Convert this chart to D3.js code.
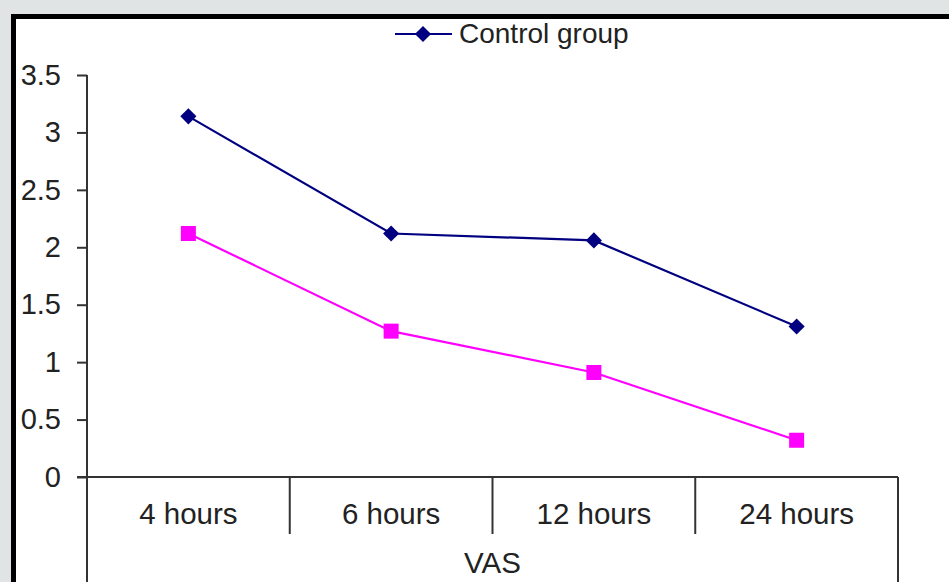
<!DOCTYPE html>
<html lang="en">
<head>
    <meta charset="UTF-8">
    <title>VAS</title>
    <script src="https://d3js.org/d3.v7.min.js"></script>
    <style>
        body {
            margin: 0;
            background: #e0e4e5;
        }
        svg {
            display: block;
        }
        svg text {
            font-family: "Liberation Sans", Arial, sans-serif;
            fill: #222;
        }
    </style>
</head>
<body>
    <svg width="949" height="582"></svg>
    <script>
        // Data
        const categories = ["4 hours", "6 hours", "12 hours", "24 hours"];
        const controlValues = [3.14, 2.12, 2.06, 1.31];
        const studyValues = [2.12, 1.27, 0.91, 0.32];
        const yTicks = [0, 0.5, 1, 1.5, 2, 2.5, 3, 3.5];

        const svg = d3.select("svg");

        // Outer frame
        svg.append("rect")
           .attr("x", 13.5)
           .attr("y", 16.5)
           .attr("width", 1000)
           .attr("height", 700)
           .attr("fill", "white")
           .attr("stroke", "black")
           .attr("stroke-width", 5);

        const plotLeft = 87, plotRight = 898, plotTop = 75, plotBottom = 477;

        const x = d3.scaleBand()
                    .domain(categories)
                    .range([plotLeft, plotRight])
                    .padding(0);

        const y = d3.scaleLinear()
                    .domain([0, 3.5])
                    .range([plotBottom, plotTop]);

        // Y axis
        const yAxis = svg.append("g")
           .attr("transform", `translate(${plotLeft},0)`)
           .call(d3.axisLeft(y).tickValues(yTicks).tickSize(10).tickPadding(16)
                 .tickFormat(d3.format("")));
        yAxis.select(".domain").attr("stroke", "#333").attr("stroke-width", 2)
             .attr("d", `M0,${plotTop}V582`);
        yAxis.selectAll(".tick line").attr("stroke", "#333").attr("stroke-width", 2);
        yAxis.selectAll(".tick text").style("font-size", "29px").attr("fill", "#222");

        // X axis line
        svg.append("line")
           .attr("x1", plotLeft - 10).attr("x2", plotRight)
           .attr("y1", plotBottom).attr("y2", plotBottom)
           .attr("stroke", "#333").attr("stroke-width", 2);

        // category dividers
        const edges = categories.map(c => x(c)).concat([plotRight]);
        svg.selectAll(".divider")
           .data(edges)
           .enter().append("line")
           .attr("x1", d => d).attr("x2", d => d)
           .attr("y1", plotBottom)
           .attr("y2", (d, i) => (i === 0 || i === edges.length - 1) ? 582 : 534)
           .attr("stroke", "#333").attr("stroke-width", 2);

        svg.selectAll(".cat")
           .data(categories)
           .enter().append("text")
           .attr("x", d => x(d) + x.bandwidth() / 2)
           .attr("y", 524)
           .attr("text-anchor", "middle")
           .style("font-size", "29.5px")
           .text(d => d);

        svg.append("text")
           .attr("x", (plotLeft + plotRight) / 2)
           .attr("y", 573)
           .attr("text-anchor", "middle")
           .style("font-size", "29.5px")
           .text("VAS");

        const line = d3.line()
                       .x((d, i) => x(categories[i]) + x.bandwidth() / 2)
                       .y(d => y(d));

        // Study group (magenta squares)
        svg.append("path")
           .datum(studyValues)
           .attr("fill", "none")
           .attr("stroke", "#ff00ff")
           .attr("stroke-width", 2.2)
           .attr("d", line);
        svg.selectAll(".sq")
           .data(studyValues)
           .enter().append("rect")
           .attr("x", (d, i) => x(categories[i]) + x.bandwidth() / 2 - 7.5)
           .attr("y", d => y(d) - 7.5)
           .attr("width", 15).attr("height", 15)
           .attr("fill", "#ff00ff");

        // Control group (navy diamonds)
        const diamond = d3.symbol().type(d3.symbolSquare).size(130);
        svg.append("path")
           .datum(controlValues)
           .attr("fill", "none")
           .attr("stroke", "#000080")
           .attr("stroke-width", 2.2)
           .attr("d", line);
        svg.selectAll(".dm")
           .data(controlValues)
           .enter().append("path")
           .attr("d", diamond)
           .attr("transform", (d, i) => `translate(${x(categories[i]) + x.bandwidth() / 2},${y(d)}) rotate(45)`)
           .attr("fill", "#000080");

        // Legend
        svg.append("line")
           .attr("x1", 395).attr("x2", 452)
           .attr("y1", 34).attr("y2", 34)
           .attr("stroke", "#000080").attr("stroke-width", 2.2);
        svg.append("path")
           .attr("d", diamond)
           .attr("transform", "translate(423,34) rotate(45)")
           .attr("fill", "#000080");
        svg.append("text")
           .attr("x", 459)
           .attr("y", 43)
           .style("font-size", "28px")
           .text("Control group");
    </script>
</body>
</html>
